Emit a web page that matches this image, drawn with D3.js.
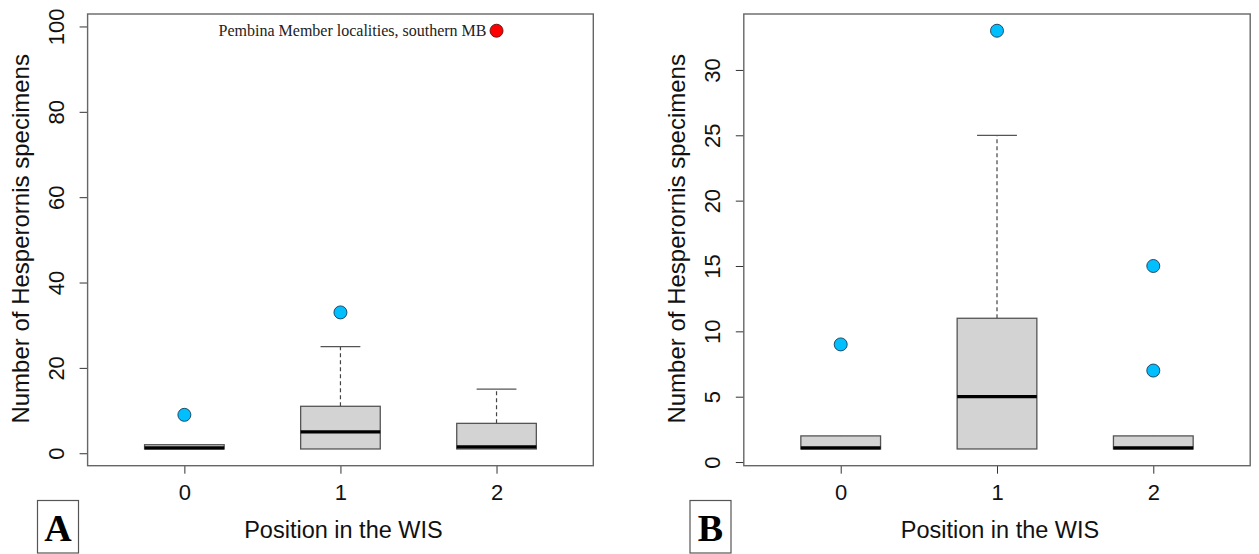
<!DOCTYPE html>
<html>
<head>
<meta charset="utf-8">
<script src="https://cdn.jsdelivr.net/npm/d3@7"></script>
<style>
  html, body { margin: 0; padding: 0; background: #fff; }
  svg { display: block; }
</style>
</head>
<body>
<svg id="chart" width="1259" height="554"></svg>
<script>
// ---------- data ----------
const categories = ["0", "1", "2"];

// Panel A (all localities, incl. Pembina Member)
const aQ1 = [1, 1, 1];
const aMedian = [1, 5, 1.5];
const aQ3 = [2, 11, 7];
const aLowWhisker = [1, 1, 1];
const aHighWhisker = [2, 25, 15];
const aOutlierGroup = ["0", "1"];
const aOutlierValue = [9, 33];
const aSpecialGroup = ["2"];
const aSpecialValue = [99];
const aSpecialLabel = ["Pembina Member localities, southern MB"];
const aTicks = [0, 20, 40, 60, 80, 100];
const aDataRange = [1, 99];

// Panel B (without Pembina Member)
const bQ1 = [1, 1, 1];
const bMedian = [1, 5, 1];
const bQ3 = [2, 11, 2];
const bLowWhisker = [1, 1, 1];
const bHighWhisker = [2, 25, 2];
const bOutlierGroup = ["0", "1", "2", "2"];
const bOutlierValue = [9, 33, 7, 15];
const bTicks = [0, 5, 10, 15, 20, 25, 30];
const bDataRange = [1, 33];

const yTitle = "Number of Hesperornis specimens";
const xTitle = "Position in the WIS";

// ---------- drawing ----------
const svg = d3.select("#chart");
const plotTop = 14, plotBottom = 465.7;
const sans = "Liberation Sans, Arial, sans-serif";

function panel(cfg) {
  const g = svg.append("g");
  const x = d3.scalePoint().domain(categories).range([cfg.left, cfg.right]).padding(0.62);
  const ext = (cfg.range[1] - cfg.range[0]) * 0.04;
  const y = d3.scaleLinear().domain([cfg.range[0] - ext, cfg.range[1] + ext]).range([plotBottom, plotTop]);
  const step = x.step();
  const bw = step * 0.51;

  // y axis
  const yAxis = g.append("g").attr("transform", `translate(${cfg.left},0)`)
    .call(d3.axisLeft(y).tickValues(cfg.ticks).tickSize(8).tickSizeOuter(0).tickFormat(d3.format("d")));
  yAxis.select(".domain").remove();
  yAxis.selectAll(".tick line").attr("stroke", "#333").attr("stroke-width", 1);
  yAxis.selectAll(".tick text")
    .attr("x", 0).attr("dy", null).attr("y", 0)
    .attr("transform", `translate(-31,0) rotate(-90)`)
    .attr("text-anchor", "middle")
    .attr("dominant-baseline", "central")
    .attr("font-family", sans)
    .attr("font-size", 22).attr("fill", "#111");

  // x axis
  const xAxis = g.append("g").attr("transform", `translate(0,${plotBottom})`)
    .call(d3.axisBottom(x).tickSize(8).tickSizeOuter(0));
  xAxis.select(".domain").remove();
  xAxis.selectAll(".tick line").attr("stroke", "#333").attr("stroke-width", 1);
  xAxis.selectAll(".tick text").attr("y", 18.5).attr("dy", "0.71em")
    .attr("font-family", sans)
    .attr("font-size", 22).attr("fill", "#111");

  // whiskers
  const idx = d3.range(categories.length);
  g.selectAll(".whisk").data(idx).join("line")
    .attr("x1", i => x(categories[i])).attr("x2", i => x(categories[i]))
    .attr("y1", i => y(cfg.q3[i])).attr("y2", i => y(cfg.hi[i]))
    .attr("stroke", "#444").attr("stroke-width", 1.2).attr("stroke-dasharray", "4,3");
  g.selectAll(".cap").data(idx.filter(i => cfg.hi[i] > cfg.q3[i])).join("line")
    .attr("x1", i => x(categories[i]) - bw / 4).attr("x2", i => x(categories[i]) + bw / 4)
    .attr("y1", i => y(cfg.hi[i])).attr("y2", i => y(cfg.hi[i]))
    .attr("stroke", "#555").attr("stroke-width", 1.3);
  g.selectAll(".lowwhisk").data(idx.filter(i => cfg.lo[i] < cfg.q1[i])).join("line")
    .attr("x1", i => x(categories[i])).attr("x2", i => x(categories[i]))
    .attr("y1", i => y(cfg.q1[i])).attr("y2", i => y(cfg.lo[i]))
    .attr("stroke", "#444").attr("stroke-width", 1.2).attr("stroke-dasharray", "4,3");

  // boxes
  g.selectAll(".box").data(idx).join("rect")
    .attr("x", i => x(categories[i]) - bw / 2)
    .attr("width", bw)
    .attr("y", i => y(cfg.q3[i]))
    .attr("height", i => y(cfg.q1[i]) - y(cfg.q3[i]))
    .attr("fill", "#d3d3d3").attr("stroke", "#555").attr("stroke-width", 1.3);
  g.selectAll(".med").data(idx).join("line")
    .attr("x1", i => x(categories[i]) - bw / 2).attr("x2", i => x(categories[i]) + bw / 2)
    .attr("y1", i => y(cfg.med[i]) - (cfg.med[i] === cfg.q1[i] ? 1 : 0))
    .attr("y2", i => y(cfg.med[i]) - (cfg.med[i] === cfg.q1[i] ? 1 : 0))
    .attr("stroke", "#000").attr("stroke-width", 3.2);

  // outliers
  g.selectAll(".out").data(cfg.outG.map((c, i) => [c, cfg.outV[i]])).join("circle")
    .attr("cx", d => x(d[0])).attr("cy", d => y(d[1])).attr("r", 6.5)
    .attr("fill", "#00bfff").attr("stroke", "#1b3a55").attr("stroke-width", 0.9);
  if (cfg.specG) {
    const sp = cfg.specG.map((c, i) => [c, cfg.specV[i], cfg.specL[i]]);
    g.selectAll(".spec").data(sp).join("circle")
      .attr("cx", d => x(d[0])).attr("cy", d => y(d[1])).attr("r", 6.5)
      .attr("fill", "#ff0000").attr("stroke", "#5a1010").attr("stroke-width", 0.9);
    g.selectAll(".specl").data(sp).join("text")
      .attr("x", d => x(d[0]) - 10).attr("y", d => y(d[1]))
      .attr("dy", "0.33em").attr("text-anchor", "end")
      .attr("font-family", "Liberation Serif, Times New Roman, serif")
      .attr("font-size", 16).attr("fill", "#222")
      .text(d => d[2]);
  }

  // frame
  g.append("rect").attr("x", cfg.left).attr("y", plotTop)
    .attr("width", cfg.right - cfg.left).attr("height", plotBottom - plotTop)
    .attr("fill", "none").attr("stroke", "#666").attr("stroke-width", 1.4);

  // titles
  g.append("text")
    .attr("transform", `translate(${cfg.left - 67},${(plotTop + plotBottom) / 2 - 1}) rotate(-90)`)
    .attr("text-anchor", "middle").attr("dominant-baseline", "central")
    .attr("font-family", sans)
    .attr("font-size", 24).attr("fill", "#111")
    .text(yTitle);
  g.append("text")
    .attr("x", (cfg.left + cfg.right) / 2 + 3).attr("y", 530)
    .attr("text-anchor", "middle").attr("dominant-baseline", "central")
    .attr("font-family", sans)
    .attr("font-size", 23.5).attr("fill", "#111")
    .text(xTitle);

  // panel letter
  g.append("rect").attr("x", cfg.letterX).attr("y", 500.5)
    .attr("width", 41).attr("height", 52.5)
    .attr("fill", "#fff").attr("stroke", "#555").attr("stroke-width", 1.2);
  g.append("text").attr("x", cfg.letterX + 20.5).attr("y", 541)
    .attr("text-anchor", "middle")
    .attr("font-family", "Liberation Serif, Times New Roman, serif")
    .attr("font-weight", "bold").attr("font-size", 38).attr("fill", "#000")
    .text(cfg.letter);
}

panel({
  left: 87.6, right: 593.3, range: aDataRange, ticks: aTicks,
  q1: aQ1, med: aMedian, q3: aQ3, lo: aLowWhisker, hi: aHighWhisker,
  outG: aOutlierGroup, outV: aOutlierValue,
  specG: aSpecialGroup, specV: aSpecialValue, specL: aSpecialLabel,
  letter: "A", letterX: 37.5
});
panel({
  left: 743.8, right: 1250.2, range: bDataRange, ticks: bTicks,
  q1: bQ1, med: bMedian, q3: bQ3, lo: bLowWhisker, hi: bHighWhisker,
  outG: bOutlierGroup, outV: bOutlierValue,
  letter: "B", letterX: 690
});
</script>
</body>
</html>
